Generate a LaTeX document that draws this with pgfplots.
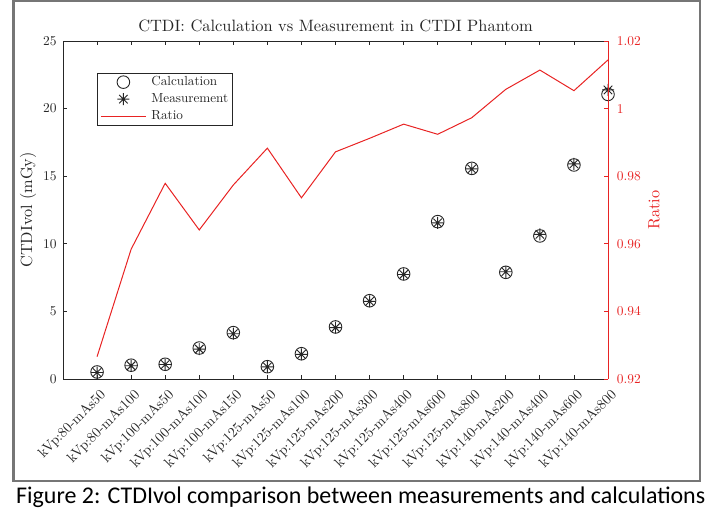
\documentclass[border=0pt]{standalone}
\usepackage{fontspec}
\setmainfont{lmroman10-regular.otf}[BoldFont=lmroman10-bold.otf,ItalicFont=lmroman10-italic.otf]
\newfontfamily\carlito{Carlito}
\usepackage{graphicx}
\usepackage{pgfplots}
\usepackage{pgfplotstable}
\pgfplotsset{compat=1.18}

\definecolor{mred}{RGB}{232,35,35}
\definecolor{framegray}{RGB}{118,118,118}
\definecolor{axblack}{RGB}{38,38,38}

\pgfdeclareplotmark{mstar}{%
  \pgfpathmoveto{\pgfqpoint{-\pgfplotmarksize}{0pt}}%
  \pgfpathlineto{\pgfqpoint{\pgfplotmarksize}{0pt}}%
  \pgfpathmoveto{\pgfqpoint{0pt}{-\pgfplotmarksize}}%
  \pgfpathlineto{\pgfqpoint{0pt}{\pgfplotmarksize}}%
  \pgfpathmoveto{\pgfqpoint{-.7071\pgfplotmarksize}{-.7071\pgfplotmarksize}}%
  \pgfpathlineto{\pgfqpoint{.7071\pgfplotmarksize}{.7071\pgfplotmarksize}}%
  \pgfpathmoveto{\pgfqpoint{-.7071\pgfplotmarksize}{.7071\pgfplotmarksize}}%
  \pgfpathlineto{\pgfqpoint{.7071\pgfplotmarksize}{-.7071\pgfplotmarksize}}%
  \pgfusepathqstroke}

\pgfplotstableread{
idx calc meas ratio
0  0.52  0.48  0.9266
1  1.02  0.98  0.9584
2  1.09  1.07  0.9779
3  2.29  2.21  0.9641
4  3.43  3.35  0.9774
5  0.91  0.90  0.9883
6  1.87  1.82  0.9736
7  3.85  3.80  0.9872
8  5.79  5.74  0.9912
9  7.77  7.73  0.9954
10 11.64 11.55 0.9924
11 15.58 15.54 0.9973
12 7.89  7.93  1.0057
13 10.58 10.70 1.0114
14 15.83 15.91 1.0053
15 21.05 21.38 1.0144
}\datatable

\begin{document}
\begin{tikzpicture}
\useasboundingbox (0,0) rectangle (722bp,525bp);
\draw[framegray, line width=2.5bp] (13.5bp,524bp) rectangle (700bp,44bp);
\node[anchor=base west, inner sep=0pt] at (16bp,21.7bp)
  {\resizebox{689bp}{!}{\carlito\fontsize{19.6}{22}\selectfont Figure 2: CTDIvol comparison between measurements and calculations}};

\begin{axis}[
  at={(63bp,146bp)}, anchor=south west,
  scale only axis, width=545bp, height=338bp,
  xmin=-1, xmax=15, ymin=0, ymax=25,
  axis x line*=box, axis y line*=left,
  axis line style={axblack, line width=0.8bp},
  tick style={axblack, line width=0.8bp},
  tick align=inside, major tick length=4bp,
  /pgf/number format/assume math mode=true,
  xtick={0,...,15},
  xticklabels={kVp:80-mAs50,kVp:80-mAs100,kVp:100-mAs50,kVp:100-mAs100,kVp:100-mAs150,kVp:125-mAs50,kVp:125-mAs100,kVp:125-mAs200,kVp:125-mAs300,kVp:125-mAs400,kVp:125-mAs600,kVp:125-mAs800,kVp:140-mAs200,kVp:140-mAs400,kVp:140-mAs600,kVp:140-mAs800},
  ytick={0,5,10,15,20,25},
  tick label style={font=\fontsize{13.5}{16}\selectfont, text=axblack},
  xticklabel style={font=\fontsize{14.2}{17}\selectfont, inner sep=0pt, xshift=2bp, yshift=-9bp, rotate=45, anchor=north east},
  yticklabel style={inner sep=0pt, xshift=-6.3bp},
  ylabel={CTDIvol (mGy)},
  ylabel style={at={(axis description cs:-0.064,0.5)}, anchor=center, font=\fontsize{16.3}{19}\selectfont, text=axblack},
  title={CTDI: Calculation vs Measurement in CTDI Phantom},
  title style={at={(0.5,1)}, anchor=base, yshift=3.3bp, font=\fontsize{16.5}{19}\selectfont, text=axblack},
  clip=false,
]
\addplot[only marks, mark=o, mark size=6.3bp, axblack, mark options={line width=0.9bp}] table[x=idx,y=calc]{\datatable};
\addplot[only marks, mark=mstar, mark size=6bp, axblack, mark options={line width=0.9bp}] table[x=idx,y=meas]{\datatable};
\end{axis}

\begin{axis}[
  at={(63bp,146bp)}, anchor=south west,
  scale only axis, width=545bp, height=338bp,
  xmin=-1, xmax=15, ymin=0.92, ymax=1.02,
  axis x line=none, axis y line*=right,
  axis line style={mred, line width=0.8bp},
  tick style={mred, line width=0.8bp},
  tick align=inside, major tick length=4bp,
  ytick={0.92,0.94,0.96,0.98,1,1.02},
  yticklabels={0.92,0.94,0.96,0.98,1,1.02},
  tick label style={font=\fontsize{13.5}{16}\selectfont, text=mred},
  yticklabel style={inner sep=0pt, xshift=8.7bp},
  ylabel={Ratio},
  ylabel style={at={(axis description cs:1.0844,0.5)}, anchor=center, font=\fontsize{16.3}{19}\selectfont, text=mred},
  legend image code/.code={\draw[mark repeat=2,mark phase=2,#1] plot coordinates {(0bp,0bp)(22.5bp,0bp)(45bp,0bp)};},
  legend style={at={(0.0624,0.9053)}, anchor=north west, draw=axblack, line width=0.8bp, fill=white,
    font=\fontsize{13.2}{15}\selectfont, inner xsep=3bp, inner ysep=1.5bp, row sep=2.5bp, column sep=4bp,
    nodes={inner sep=1bp, text height=9.5bp, text depth=3bp, text=axblack}},
  legend cell align=left,
  clip=false,
]
\addlegendimage{only marks, mark=o, mark size=6.3bp, axblack, mark options={line width=0.9bp}}
\addlegendimage{only marks, mark=mstar, mark size=6bp, axblack, mark options={line width=0.9bp}}
\addplot[mred, line width=1bp, mark=none] table[x=idx,y=ratio]{\datatable};
\legend{Calculation,Measurement,Ratio}
\end{axis}
\end{tikzpicture}
\end{document}
